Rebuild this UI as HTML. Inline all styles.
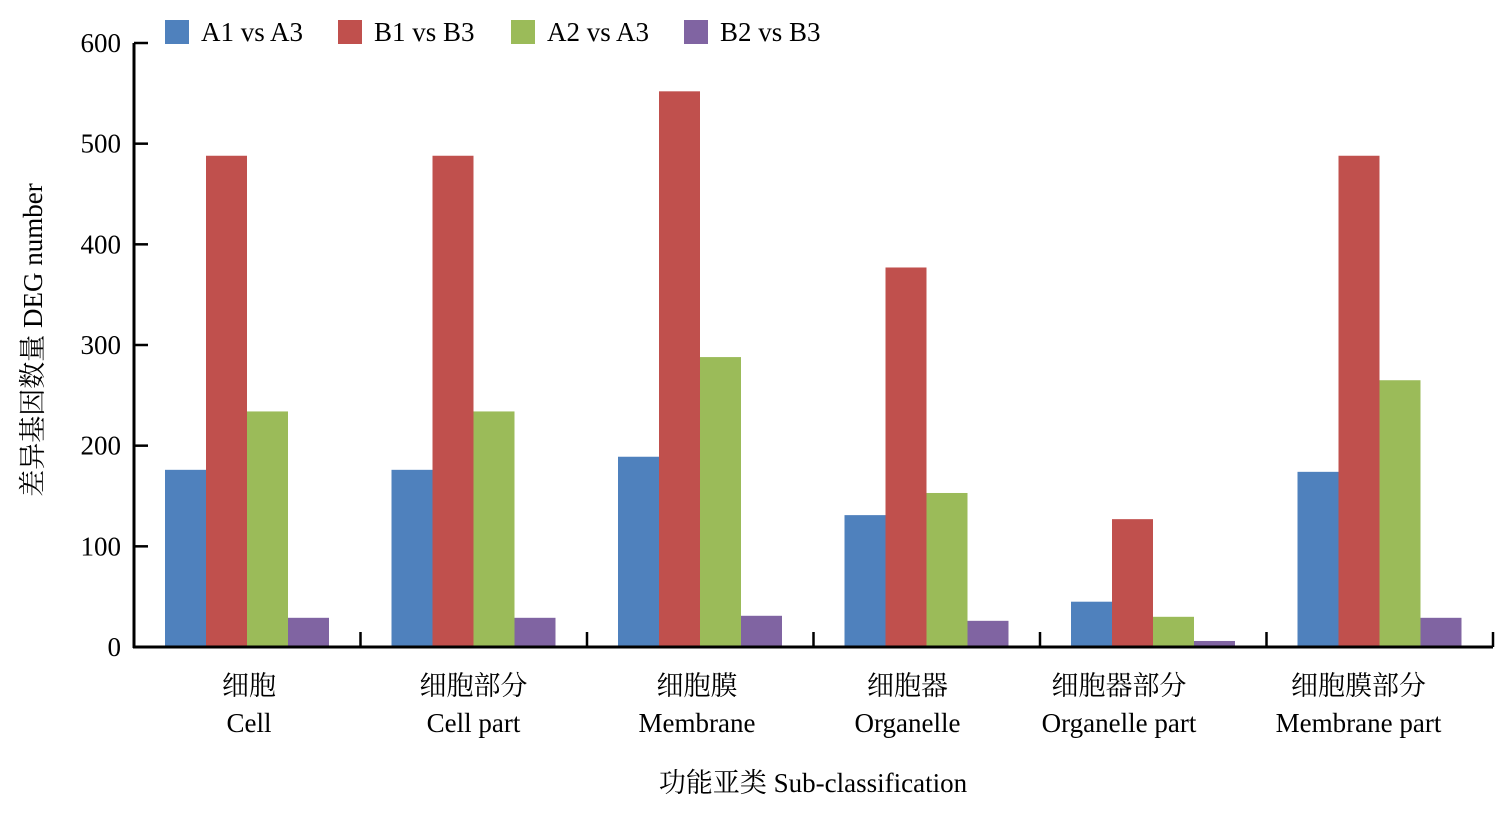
<!DOCTYPE html>
<html><head><meta charset="utf-8"><style>
body{margin:0;background:#fff}
svg text{font-family:"Liberation Serif","Noto Serif CJK SC",serif;fill:#000}
</style></head><body>
<svg width="1510" height="819" xmlns="http://www.w3.org/2000/svg">
<g id="plot"></g>
</svg>
<script>
const categoriesCN=["细胞","细胞部分","细胞膜","细胞器","细胞器部分","细胞膜部分"];
const categoriesEN=["Cell","Cell part","Membrane","Organelle","Organelle part","Membrane part"];
const seriesNames=["A1 vs A3","B1 vs B3","A2 vs A3","B2 vs B3"];
const a1a3=[176,176,189,131,45,174];
const b1b3=[488,488,552,377,127,488];
const a2a3=[234,234,288,153,30,265];
const b2b3=[29,29,31,26,6,29];
const yTicks=[0,100,200,300,400,500,600];
const colors=["#4f81bd","#c0504d","#9bbb59","#8064a2"];
const series=[a1a3,b1b3,a2a3,b2b3];
const NS="http://www.w3.org/2000/svg";
const g=document.getElementById('plot');
const x0=134,x1=1493,y0=647,yTop=43,yMax=600;
const gw=(x1-x0)/categoriesCN.length;
const y=v=>y0-(v/yMax)*(y0-yTop);
function el(t,a,p){const e=document.createElementNS(NS,t);for(const k in a)e.setAttribute(k,a[k]);(p||g).appendChild(e);return e;}
// bars
series.forEach((s,si)=>{s.forEach((v,ci)=>{
 const r=el('rect',{x:x0+ci*gw+31+si*41,y:y(v),width:41,height:y0-y(v),fill:colors[si]});
 
 
});});
// axes
const ya=el('line',{x1:x0,y1:y0+1,x2:x0,y2:yTop,stroke:'#000','stroke-width':3});


const xa=el('line',{x1:x0-1,y1:y0,x2:x1,y2:y0,stroke:'#000','stroke-width':3});


yTicks.forEach(t=>{
 const l=el('line',{x1:x0,y1:y(t),x2:x0+14,y2:y(t),stroke:'#000','stroke-width':2.5});
 
 
 const tx=el('text',{x:121,y:y(t)+9,'text-anchor':'end','font-size':27});
 tx.textContent=t;
 
 
});
categoriesCN.forEach((c,i)=>{
 const tx=x0+(i+1)*gw;
 const l=el('line',{x1:tx,y1:y0,x2:tx,y2:y0-15,stroke:'#000','stroke-width':2.5});
 
 
 const cx=x0+i*gw+31+82+(i==1?-5:0)+(i==3?0:0);
 const t1=el('text',{x:x0+i*gw+113+[2,0,-3,-19,-34,-21][i],y:695,'text-anchor':'middle','font-size':27});
 t1.textContent=c;
 
 
 const t2=el('text',{x:x0+i*gw+113+[2,0,-3,-19,-34,-21][i],y:732,'text-anchor':'middle','font-size':27});
 t2.textContent=categoriesEN[i];
 
 
});
const xt=el('text',{x:813,y:792,'text-anchor':'middle','font-size':27});
xt.textContent="功能亚类 Sub-classification";


const yt=el('text',{x:0,y:0,'text-anchor':'middle','font-size':27,transform:'translate(42,340) rotate(-90)'});
yt.textContent="差异基因数量 DEG number";


seriesNames.forEach((n,i)=>{
 const lx=165+i*173;
 const r=el('rect',{x:lx,y:20,width:24,height:24,fill:colors[i]});
 
 
 const t=el('text',{x:lx+36,y:41,'font-size':27});
 t.textContent=n;
 
 
});
</script>
</body></html>
